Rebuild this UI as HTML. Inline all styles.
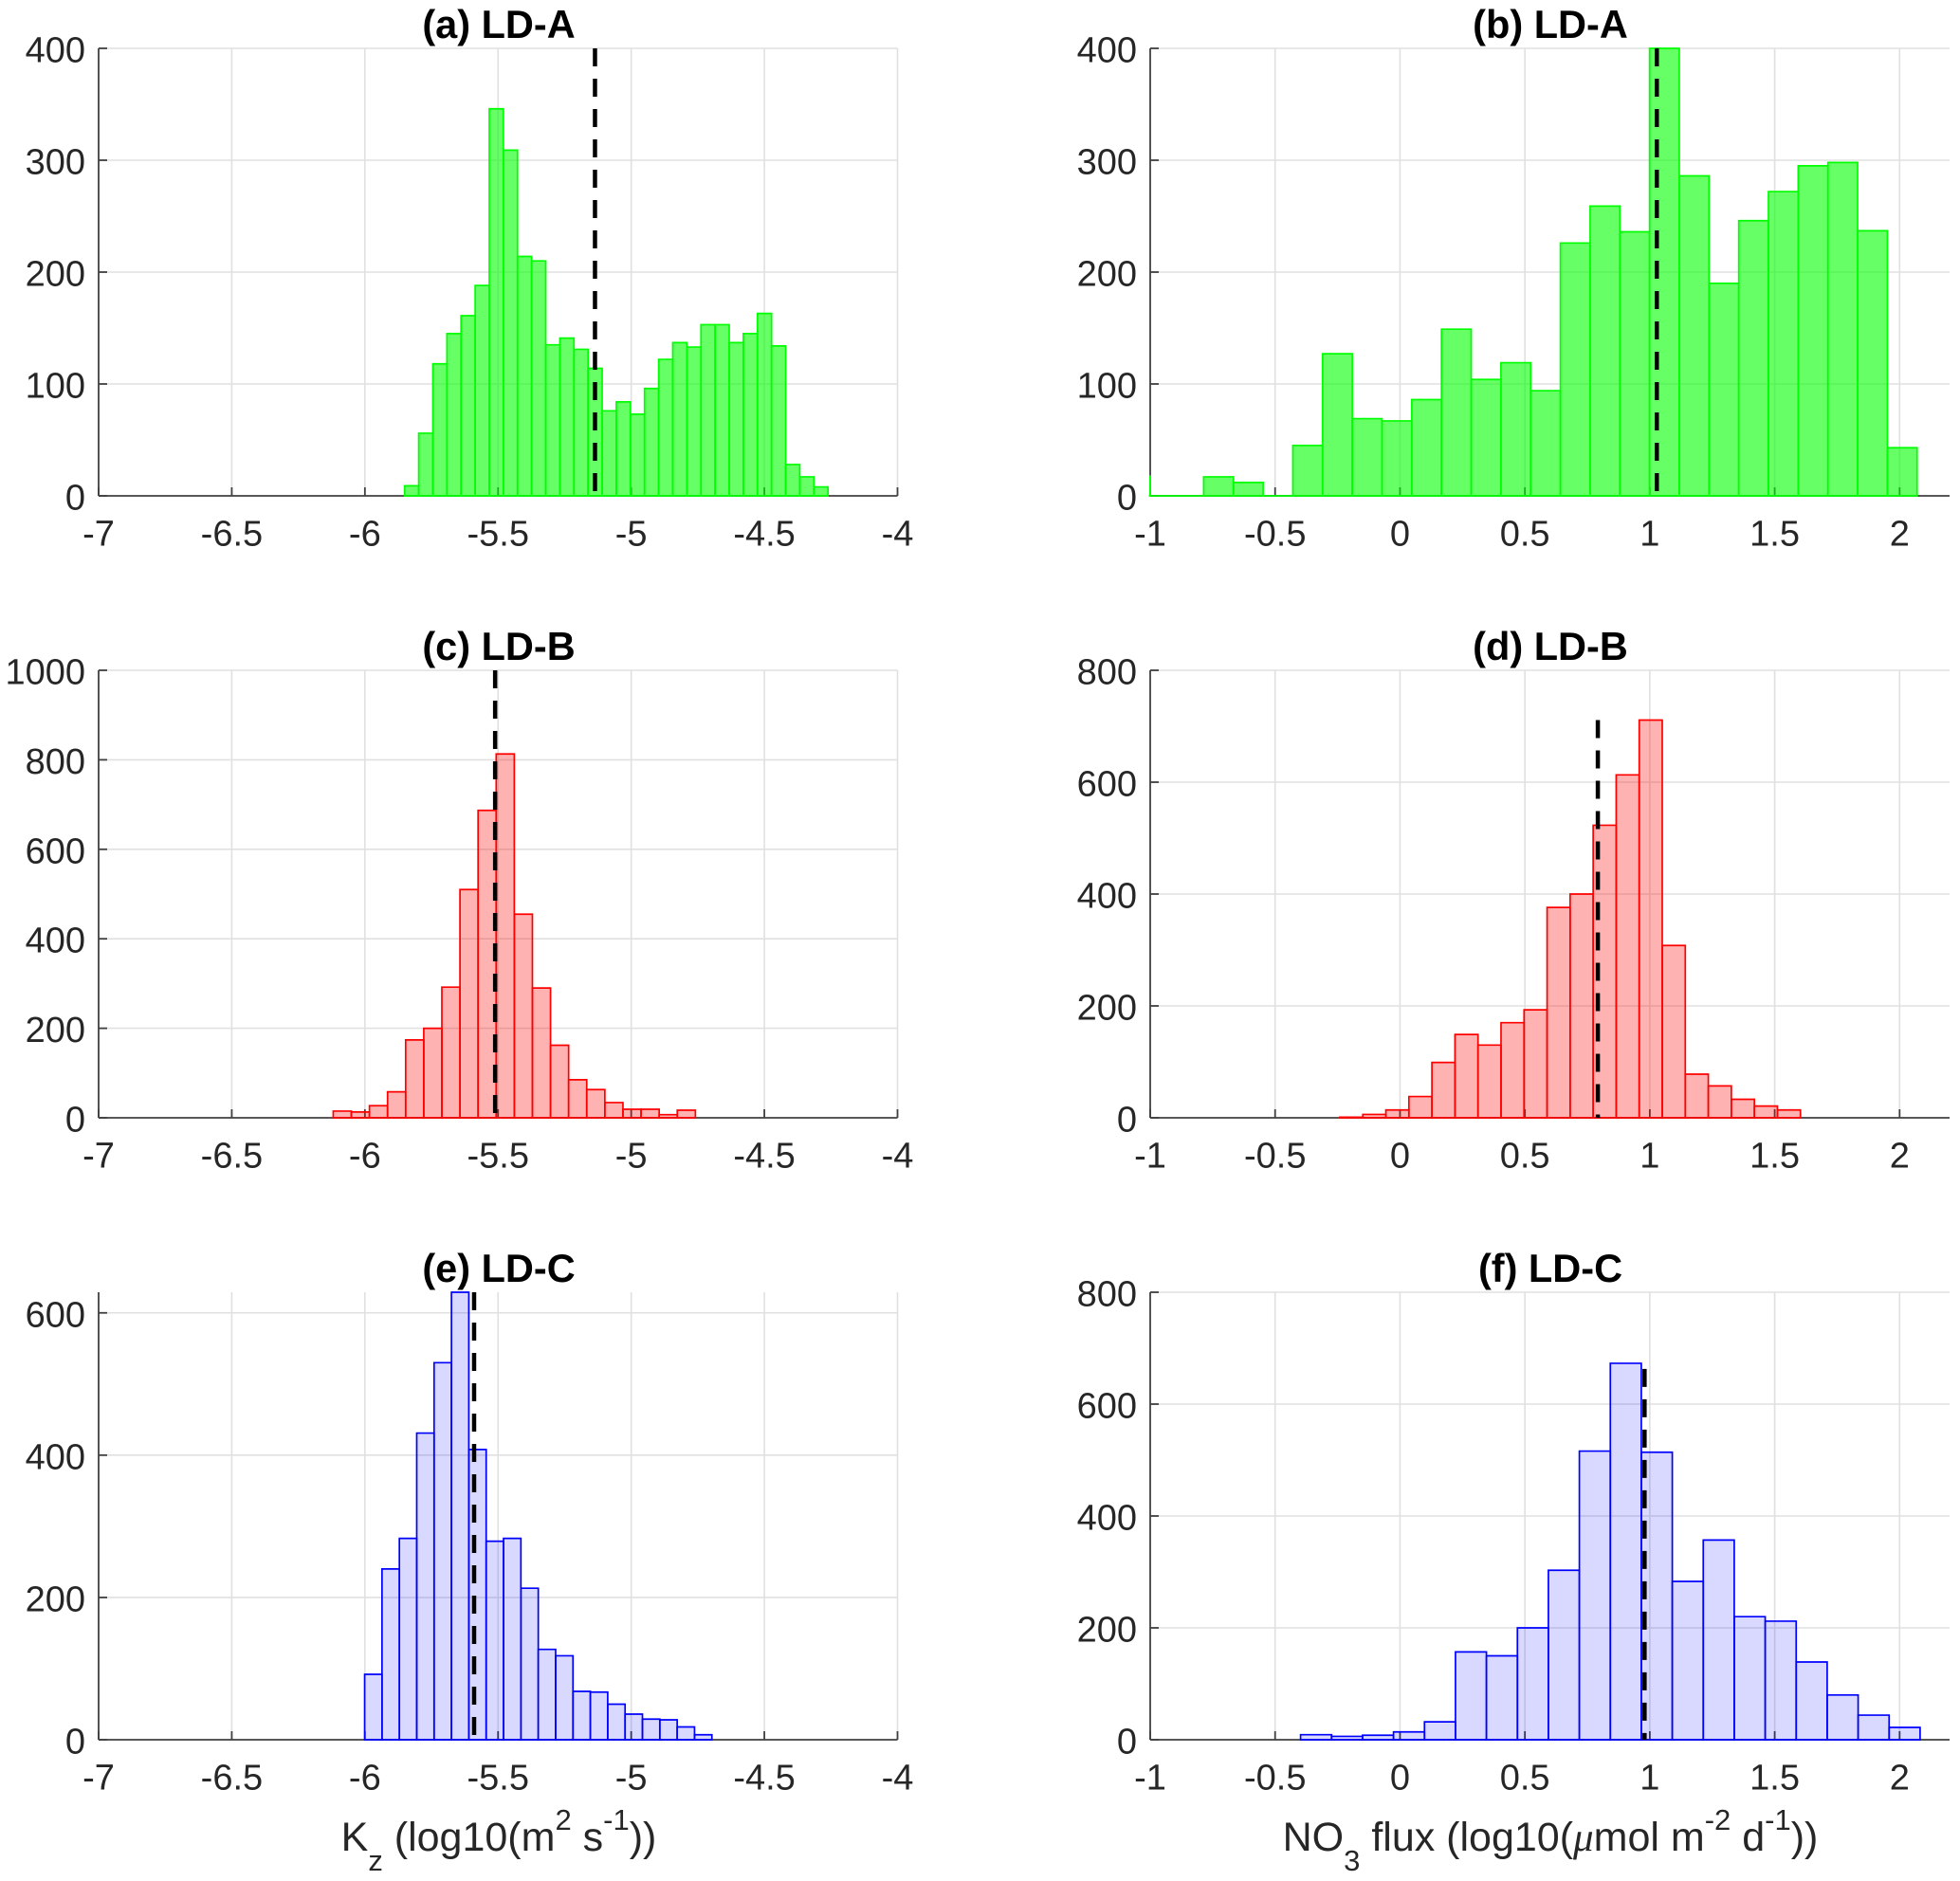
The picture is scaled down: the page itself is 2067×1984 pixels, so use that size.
<!DOCTYPE html>
<html lang="en">
<head>
<meta charset="utf-8">
<title>Histograms of Kz and NO3 flux for LD-A, LD-B and LD-C</title>
<style>
html,body{margin:0;padding:0;background:#fff;}
svg{display:block;}
text{font-family:"Liberation Sans",Arial,sans-serif;fill:#262626;}
.title{font-size:41.5px;font-weight:bold;fill:#000;text-anchor:middle;}
.xlabel{font-size:43px;text-anchor:middle;}
</style>
</head>
<body>
<svg id="figure" xmlns="http://www.w3.org/2000/svg" width="2067" height="1984" viewBox="0 0 2067 1984">
  <rect width="2067" height="1984" fill="#ffffff"/>
  <g id="panel-a"></g>
  <g id="panel-b"></g>
  <g id="panel-c"></g>
  <g id="panel-d"></g>
  <g id="panel-e"></g>
  <g id="panel-f"></g>

  <text class="title" x="526" y="40">(a) LD-A</text>
  <text class="title" x="1635" y="40">(b) LD-A</text>
  <text class="title" x="526" y="696">(c) LD-B</text>
  <text class="title" x="1635" y="696">(d) LD-B</text>
  <text class="title" x="526" y="1352">(e) LD-C</text>
  <text class="title" x="1635" y="1352">(f) LD-C</text>

  <text class="xlabel" x="526" y="1952">K<tspan dy="21" font-size="31">z</tspan><tspan dy="-21"> (log10(m</tspan><tspan dy="-22" font-size="31">2</tspan><tspan dy="22"> s</tspan><tspan dy="-22" font-size="31">-1</tspan><tspan dy="22">))</tspan></text>
  <text class="xlabel" x="1635" y="1952">NO<tspan dy="21" font-size="31">3</tspan><tspan dy="-21"> flux (log10(</tspan><tspan font-family="Liberation Serif" font-style="italic">μ</tspan><tspan>mol m</tspan><tspan dy="-22" font-size="31">-2</tspan><tspan dy="22"> d</tspan><tspan dy="-22" font-size="31">-1</tspan><tspan dy="22">))</tspan></text>
</svg>

<script>
// ---- Chart data ----
const xTicksKz = [-7, -6.5, -6, -5.5, -5, -4.5, -4];
const xTicksFlux = [-1, -0.5, 0, 0.5, 1, 1.5, 2];
const xLimKz = [-7, -4];
const xLimFlux = [-1, 2.2];

const yTicksA = [0, 100, 200, 300, 400];
const yLimA = [0, 400];
const binStartA = -5.851;
const binWidthA = 0.053;
const countsA = [9, 56, 118, 145, 161, 188, 346, 309, 214, 210, 135, 141, 131, 114, 76, 84, 73, 96, 122, 137, 133, 153, 153, 137, 145, 163, 134, 28, 17, 8];
const meanA = -5.136;

const yTicksB = [0, 100, 200, 300, 400];
const yLimB = [0, 400];
const binStartB = -1.024;
const binWidthB = 0.119;
const countsB = [0, 0, 17, 12, 0, 45, 127, 69, 67, 86, 149, 104, 119, 94, 226, 259, 236, 400, 286, 190, 246, 272, 295, 298, 237, 43];
const clippedEdgeB = [-1, 18];
const meanB = 1.028;

const yTicksC = [0, 200, 400, 600, 800, 1000];
const yLimC = [0, 1000];
const binStartC = -6.119;
const binWidthC = 0.068;
const countsC = [15, 13, 27, 58, 174, 200, 292, 510, 687, 813, 455, 290, 162, 85, 63, 34, 19, 19, 7, 17];
const meanC = -5.511;

const yTicksD = [0, 200, 400, 600, 800];
const yLimD = [0, 800];
const binStartD = -0.241;
const binWidthD = 0.0922;
const countsD = [1, 6, 14, 38, 99, 149, 130, 170, 193, 376, 400, 523, 613, 711, 308, 78, 57, 33, 21, 14];
const meanD = 0.792;
const meanTopD = 711;

const yTicksE = [0, 200, 400, 600];
const yLimE = [0, 629];
const binStartE = -6.001;
const binWidthE = 0.0652;
const countsE = [92, 240, 283, 431, 530, 629, 408, 279, 283, 213, 127, 118, 68, 67, 50, 36, 29, 28, 18, 7];
const meanE = -5.59;

const yTicksF = [0, 200, 400, 600, 800];
const yLimF = [0, 800];
const binStartF = -0.398;
const binWidthF = 0.124;
const countsF = [9, 6, 8, 14, 32, 157, 150, 200, 303, 516, 673, 514, 283, 357, 220, 212, 139, 80, 44, 22];
const meanF = 0.979;
const meanTopF = 663;

// ---- Rendering ----
const SVG_NS = 'http://www.w3.org/2000/svg';

function mk(parent, tag, attrs) {
  const el = document.createElementNS(SVG_NS, tag);
  for (const k in attrs) el.setAttribute(k, attrs[k]);
  parent.appendChild(el);
  return el;
}

function drawPanel(cfg) {
  const root = document.getElementById(cfg.id);
  const L = cfg.box[0], R = cfg.box[1], T = cfg.box[2], B = cfg.box[3];
  const xs = function (v) { return L + (v - cfg.xLim[0]) / (cfg.xLim[1] - cfg.xLim[0]) * (R - L); };
  const ys = function (v) { return B - (v - cfg.yLim[0]) / (cfg.yLim[1] - cfg.yLim[0]) * (B - T); };

  const defs = mk(root, 'defs', {});
  const clip = mk(defs, 'clipPath', { id: cfg.id + '-clip' });
  mk(clip, 'rect', { x: L - 1.5, y: T - 1, width: R - L + 3, height: B - T + 2 });

  // grid
  const grid = mk(root, 'g', { stroke: '#e0e0e0', 'stroke-width': 1.6 });
  
  
  cfg.xTicks.forEach(function (t) {
    if (t === cfg.xLim[0]) return;
    mk(grid, 'line', { x1: xs(t), x2: xs(t), y1: T, y2: B });
  });
  cfg.yTicks.forEach(function (t) {
    if (t === cfg.yLim[0]) return;
    mk(grid, 'line', { x1: L, x2: R, y1: ys(t), y2: ys(t) });
  });

  // axes are drawn below the bars, as in the reference where bars overlay the baseline
  const axes = mk(root, 'g', { stroke: '#404040', 'stroke-width': 1.8, fill: 'none' });
  
  
  const leftAxisBottom = cfg.clippedEdge ? ys(cfg.clippedEdge[1]) : B;
  mk(axes, 'line', { x1: L, x2: L, y1: T, y2: leftAxisBottom });
  mk(axes, 'line', { x1: L, x2: R, y1: B, y2: B });
  cfg.xTicks.forEach(function (t) {
    mk(axes, 'line', { x1: xs(t), x2: xs(t), y1: B, y2: B - 9 });
    const lab = mk(root, 'text', { x: xs(t), y: B + 52.5, 'font-size': 38, 'text-anchor': 'middle' });
    lab.textContent = String(t);
    
    
  });
  cfg.yTicks.forEach(function (t) {
    mk(axes, 'line', { x1: L, x2: L + 9, y1: ys(t), y2: ys(t) });
    const lab = mk(root, 'text', { x: L - 14, y: ys(t) + 14.5, 'font-size': 38, 'text-anchor': 'end' });
    lab.textContent = String(t);
    
    
  });

  // bars
  const bars = mk(root, 'g', { 'clip-path': 'url(#' + cfg.id + '-clip)' });
  
  
  cfg.counts.forEach(function (c, i) {
    const x0 = xs(cfg.binStart + i * cfg.binWidth);
    const x1 = xs(cfg.binStart + (i + 1) * cfg.binWidth);
    const bar = mk(bars, 'path', {
      d: 'M' + x0 + ' ' + ys(0) + 'V' + ys(c) + 'H' + x1 + 'V' + ys(0) + 'Z',
      fill: cfg.color, 'fill-opacity': cfg.alpha, stroke: cfg.color, 'stroke-width': 1.7
    });
    
    
  });
  if (cfg.clippedEdge) {
    const edge = mk(bars, 'line', {
      x1: xs(cfg.clippedEdge[0]), x2: xs(cfg.clippedEdge[0]),
      y1: ys(cfg.clippedEdge[1]), y2: ys(0),
      stroke: cfg.color, 'stroke-width': 2
    });
    
    
  }

  // mean line
  const top = cfg.meanTop === undefined ? cfg.yLim[1] : cfg.meanTop;
  const mean = mk(root, 'line', {
    x1: xs(cfg.mean), x2: xs(cfg.mean), y1: ys(top), y2: ys(0),
    stroke: '#000', 'stroke-width': 4.5, 'stroke-dasharray': '19 13'
  });
  
  
}

const boxRows = [[51, 523], [707, 1179], [1363, 1835]];
const boxLeft = [104, 946.5];
const boxRight = [1213, 2056];

drawPanel({ id: 'panel-a', box: [boxLeft[0], boxLeft[1], boxRows[0][0], boxRows[0][1]], xLim: xLimKz, yLim: yLimA, xTicks: xTicksKz, yTicks: yTicksA, binStart: binStartA, binWidth: binWidthA, counts: countsA, mean: meanA, color: '#00ff00', alpha: 0.6 });
drawPanel({ id: 'panel-b', box: [boxRight[0], boxRight[1], boxRows[0][0], boxRows[0][1]], xLim: xLimFlux, yLim: yLimB, xTicks: xTicksFlux, yTicks: yTicksB, binStart: binStartB, binWidth: binWidthB, counts: countsB, mean: meanB, color: '#00ff00', alpha: 0.6, clippedEdge: clippedEdgeB });
drawPanel({ id: 'panel-c', box: [boxLeft[0], boxLeft[1], boxRows[1][0], boxRows[1][1]], xLim: xLimKz, yLim: yLimC, xTicks: xTicksKz, yTicks: yTicksC, binStart: binStartC, binWidth: binWidthC, counts: countsC, mean: meanC, color: '#ff0000', alpha: 0.3 });
drawPanel({ id: 'panel-d', box: [boxRight[0], boxRight[1], boxRows[1][0], boxRows[1][1]], xLim: xLimFlux, yLim: yLimD, xTicks: xTicksFlux, yTicks: yTicksD, binStart: binStartD, binWidth: binWidthD, counts: countsD, mean: meanD, meanTop: meanTopD, color: '#ff0000', alpha: 0.3 });
drawPanel({ id: 'panel-e', box: [boxLeft[0], boxLeft[1], boxRows[2][0], boxRows[2][1]], xLim: xLimKz, yLim: yLimE, xTicks: xTicksKz, yTicks: yTicksE, binStart: binStartE, binWidth: binWidthE, counts: countsE, mean: meanE, color: '#0000ff', alpha: 0.15 });
drawPanel({ id: 'panel-f', box: [boxRight[0], boxRight[1], boxRows[2][0], boxRows[2][1]], xLim: xLimFlux, yLim: yLimF, xTicks: xTicksFlux, yTicks: yTicksF, binStart: binStartF, binWidth: binWidthF, counts: countsF, mean: meanF, meanTop: meanTopF, color: '#0000ff', alpha: 0.15 });
</script>
</body>
</html>
